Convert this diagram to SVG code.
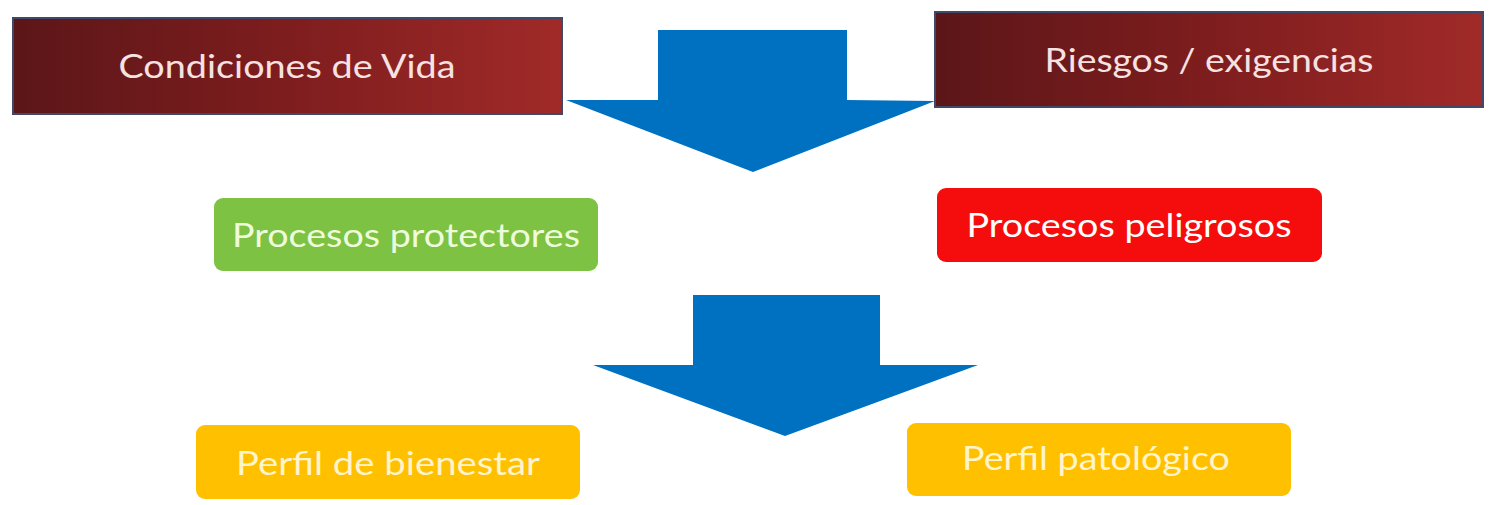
<svg xmlns="http://www.w3.org/2000/svg" width="1490" height="505" viewBox="0 0 1490 505">
<style>
.t{font-family:Lato,"Open Sans","Liberation Sans",sans-serif;font-size:33px;text-anchor:middle}
.dk{fill:url(#dred);stroke:#3f4a6a;stroke-width:2}
.arrow{fill:#0070c0}
</style>
<defs>
<linearGradient id="dred" x1="0" y1="0" x2="1" y2="0">
<stop offset="0" stop-color="#5c1618"/>
<stop offset="0.5" stop-color="#7e1d1e"/>
<stop offset="1" stop-color="#a02a28"/>
</linearGradient>
</defs>
<rect width="1490" height="505" fill="#ffffff"/>
<g id="connectors">
<polygon class="arrow" points="658,30 847,30 847,100 935,101 753,172 566,100 658,100"/>
<polygon class="arrow" points="693,295 880,295 880,365 978,365 785,436 593,365 693,365"/>
</g>
<g id="condiciones">
<rect class="dk" x="13" y="18" width="549" height="96"/>
<text class="t" x="287" y="78" fill="#f6e2e2" textLength="337" lengthAdjust="spacingAndGlyphs">Condiciones de Vida</text>
</g>
<g id="riesgos">
<rect class="dk" x="935" y="12" width="548" height="95"/>
<text class="t" x="1209" y="72" fill="#f6e2e2" textLength="329" lengthAdjust="spacingAndGlyphs">Riesgos / exigencias</text>
</g>
<g id="protectores">
<rect x="214" y="198" width="384" height="73" rx="9" fill="#7dc242"/>
<text class="t" x="406" y="247" fill="#eefcdc" textLength="348" lengthAdjust="spacingAndGlyphs">Procesos protectores</text>
</g>
<g id="peligrosos">
<rect x="937" y="188" width="385" height="74" rx="9" fill="#f50d0d"/>
<text class="t" x="1129" y="237" fill="#ffffff" textLength="325" lengthAdjust="spacingAndGlyphs">Procesos peligrosos</text>
</g>
<g id="bienestar">
<rect x="196" y="425" width="384" height="74" rx="9" fill="#ffc000"/>
<text class="t" x="388" y="475" fill="#fff4cc" textLength="304" lengthAdjust="spacingAndGlyphs">Perfil de bienestar</text>
</g>
<g id="patologico">
<rect x="907" y="423" width="384" height="73" rx="9" fill="#ffc000"/>
<text class="t" x="1096" y="470" fill="#fff4cc" textLength="268" lengthAdjust="spacingAndGlyphs">Perfil patológico</text>
</g>
</svg>
